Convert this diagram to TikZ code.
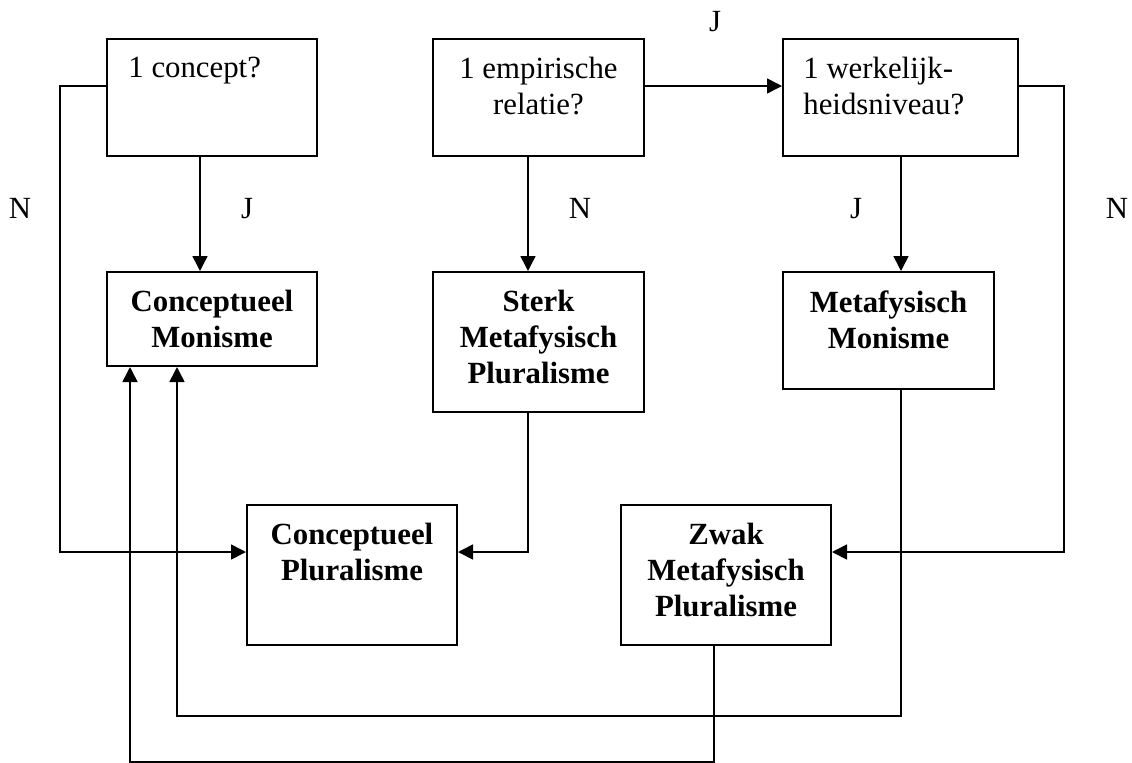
\documentclass[tikz,border=0pt]{standalone}
\usepackage{fontspec}
\setmainfont{Liberation Serif}
\usetikzlibrary{arrows.meta,calc}
\begin{document}
\begin{tikzpicture}[x=0.5pt,y=-0.5pt,
  box/.style={draw,line width=1pt,inner sep=0pt,minimum width=105pt},
  txt/.style={inner sep=0pt,font={\fontsize{15.4}{18}\selectfont},align=center,anchor=north},
  btxt/.style={txt,font={\fontsize{15.4}{18}\selectfont\bfseries}},
  lbl/.style={inner sep=0pt,font={\fontsize{15.4}{18}\selectfont},anchor=base},
  conn/.style={line width=0.8pt,-{Triangle[length=7.5pt,width=7.5pt]}}]
\useasboundingbox (0,0) rectangle (1132,762);
% boxes
\node[box,minimum height=58.5pt] (A) at (212,97.5) {};
\node[box,minimum width=105.5pt,minimum height=58.5pt] (B) at (538.5,97.5) {};
\node[box,minimum width=117.5pt,minimum height=58.5pt] (C) at (900.5,97.5) {};
\node[box,minimum height=47pt] (D) at (212,319) {};
\node[box,minimum width=105.5pt,minimum height=70pt] (E) at (538.5,342) {};
\node[box,minimum width=105.5pt,minimum height=58.5pt] (F) at (888.5,330.5) {};
\node[box,minimum height=70pt] (G) at (352,575) {};
\node[box,minimum height=70pt] (H) at (726,575) {};
% texts
\node[txt,anchor=north west,align=left] (At) at ($(A.north west)+(22,19)$) {1 concept?};
\node[txt] (Bt) at ($(B.north)+(0,19)$) {1 empirische\\relatie?};
\node[txt,anchor=north west,align=left] (Ct) at ($(C.north west)+(21,19)$) {1 werkelijk-\\heidsniveau?};
\node[btxt] (Dt) at ($(D.north)+(0,19)$) {Conceptueel\\Monisme};
\node[btxt] (Et) at ($(E.north)+(0,19)$) {Sterk\\Metafysisch\\Pluralisme};
\node[btxt] (Ft) at ($(F.north)+(0,19)$) {Metafysisch\\Monisme};
\node[btxt] (Gt) at ($(G.north)+(0,19)$) {Conceptueel\\Pluralisme};
\node[btxt] (Ht) at ($(H.north)+(0,19)$) {Zwak\\Metafysisch\\Pluralisme};
% labels
\node[lbl] (n1) at (20,218) {N};
\node[lbl] (j1) at (247,218) {J};
\node[lbl] (j2) at (715,31) {J};
\node[lbl] (n2) at (580,218) {N};
\node[lbl] (j3) at (856,218) {J};
\node[lbl] (n3) at (1117,218) {N};
% connectors
\draw[conn] (A.west |- 0,86) -| (60,552) -- (G.west |- 0,552);
\draw[conn] (A.south -| 200,0) -- (D.north -| 200,0);
\draw[conn] (B.east |- 0,86) -- (C.west |- 0,86);
\draw[conn] (B.south -| 528,0) -- (E.north -| 528,0);
\draw[conn] (C.south -| 901,0) -- (F.north -| 901,0);
\draw[conn] (C.east |- 0,86) -| (1064,552) -- (H.east |- 0,552);
\draw[conn] (E.south -| 528,0) |- (G.east |- 0,552);
\draw[conn] (F.south -| 901,0) |- (177,716) -- (D.south -| 177,0);
\draw[conn] (H.south -| 714,0) |- (130,762) -- (D.south -| 130,0);
\end{tikzpicture}
\end{document}
